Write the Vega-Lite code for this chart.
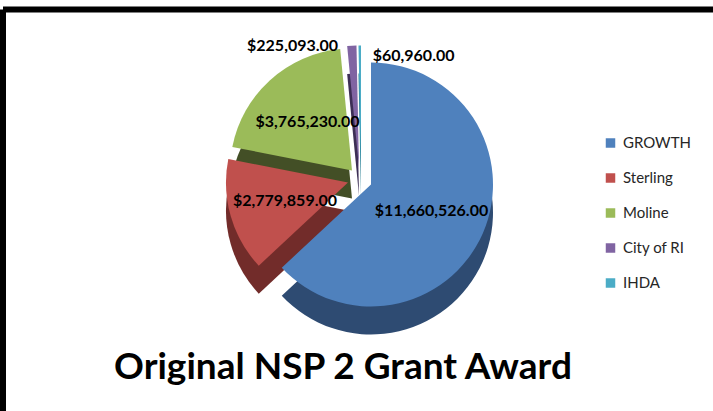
{
  "$schema": "https://vega.github.io/schema/vega-lite/v6.json",
  "width": 714,
  "height": 420,
  "autosize": {"type": "none"},
  "padding": {"left": 3, "top": 9.5, "right": 0, "bottom": 0},
  "background": "white",
  "view": {"stroke": "black", "strokeWidth": 6, "strokeDash": [714, 1134, 420, 0]},
  "config": {
    "font": "Lato",
    "legend": {
      "orient": "none", "legendX": 600, "legendY": 126,
      "symbolType": "square", "symbolSize": 90, "symbolStrokeWidth": 0,
      "labelFontSize": 15, "labelFont": "Lato", "labelColor": "#262626",
      "rowPadding": 19, "labelOffset": 5, "title": null
    }
  },
  "title": {
    "text": "Original NSP 2 Grant Award",
    "orient": "bottom", "anchor": "middle", "frame": "group",
    "font": "Lato", "fontSize": 37, "fontWeight": "bold", "color": "black",
    "baseline": "alphabetic", "offset": -50.5, "dx": -17
  },
  "data": {
    "values": [
      {"Name": "GROWTH", "Amount": 11660526, "order": 1},
      {"Name": "Sterling", "Amount": 2779859, "order": 2},
      {"Name": "Moline", "Amount": 3765230, "order": 3},
      {"Name": "City of RI", "Amount": 225093, "order": 4},
      {"Name": "IHDA", "Amount": 60960, "order": 5}
    ]
  },
  "transform": [
    {"stack": "Amount", "groupby": [], "sort": [{"field": "order", "order": "ascending"}], "as": ["start", "end"]}
  ],
  "encoding": {
    "theta": {"field": "start", "type": "quantitative", "scale": {"domain": [0, 18491668]}},
    "theta2": {"field": "end"}
  },
  "layer": [
    {"transform": [{"filter": "datum.Name === 'GROWTH'"}], "mark": {"type": "arc", "outerRadius": 122, "xOffset": 11, "yOffset": -7},
     "encoding": {"fill": {"field": "order", "type": "ordinal", "legend": null, "scale": {"domain": [1, 2, 3, 4, 5], "range": ["#2e4b72", "#722c2a", "#434f26", "#3d2f55", "#2a7f93"]}}}},
    {"transform": [{"filter": "datum.Name === 'Sterling'"}], "mark": {"type": "arc", "outerRadius": 122, "xOffset": -12, "yOffset": -9},
     "encoding": {"fill": {"field": "order", "type": "ordinal", "legend": null}}},
    {"transform": [{"filter": "datum.Name === 'Moline'"}], "mark": {"type": "arc", "outerRadius": 122, "xOffset": -8, "yOffset": -21},
     "encoding": {"fill": {"field": "order", "type": "ordinal", "legend": null}}},
    {"transform": [{"filter": "datum.Name === 'City of RI'"}], "mark": {"type": "arc", "outerRadius": 122, "xOffset": -1, "yOffset": -24},
     "encoding": {"fill": {"field": "order", "type": "ordinal", "legend": null}}},
    {"transform": [{"filter": "datum.Name === 'IHDA'"}], "mark": {"type": "arc", "outerRadius": 122, "xOffset": 1, "yOffset": -24},
     "encoding": {"fill": {"field": "order", "type": "ordinal", "legend": null}}},

    {"transform": [{"filter": "datum.Name === 'GROWTH'"}], "mark": {"type": "arc", "outerRadius": 122, "xOffset": 11, "yOffset": -35},
     "encoding": {"color": {"field": "Name", "type": "nominal", "scale": {"domain": ["GROWTH", "Sterling", "Moline", "City of RI", "IHDA"], "range": ["#4f81bd", "#c0504d", "#9bbb59", "#8064a2", "#4bacc6"]}}}},
    {"transform": [{"filter": "datum.Name === 'Sterling'"}], "mark": {"type": "arc", "outerRadius": 122, "xOffset": -12, "yOffset": -37},
     "encoding": {"color": {"field": "Name", "type": "nominal"}}},
    {"transform": [{"filter": "datum.Name === 'Moline'"}], "mark": {"type": "arc", "outerRadius": 122, "xOffset": -8, "yOffset": -49},
     "encoding": {"color": {"field": "Name", "type": "nominal"}}},
    {"transform": [{"filter": "datum.Name === 'City of RI'"}], "mark": {"type": "arc", "outerRadius": 122, "xOffset": -1, "yOffset": -52},
     "encoding": {"color": {"field": "Name", "type": "nominal"}}},
    {"transform": [{"filter": "datum.Name === 'IHDA'"}], "mark": {"type": "arc", "outerRadius": 122, "xOffset": 1, "yOffset": -52},
     "encoding": {"color": {"field": "Name", "type": "nominal"}}},

    {"mark": {"type": "text", "radius": 78, "yOffset": -40, "font": "Lato", "fontSize": 16, "fontWeight": "bold", "color": "black"},
     "encoding": {
       "theta": {"field": "Amount", "type": "quantitative", "stack": true},
       "theta2": null,
       "order": {"field": "order", "type": "quantitative"},
       "text": {"condition": {"test": "datum.order <= 3", "field": "Amount", "type": "quantitative", "format": "$,.2f"}, "value": ""}}},
    {"mark": {"type": "text", "radius": 134, "yOffset": -40, "align": "right", "dx": -14, "font": "Lato", "fontSize": 16, "fontWeight": "bold", "color": "black"},
     "encoding": {
       "theta": {"field": "Amount", "type": "quantitative", "stack": true},
       "theta2": null,
       "order": {"field": "order", "type": "quantitative"},
       "text": {"condition": {"test": "datum.Name === 'City of RI'", "field": "Amount", "type": "quantitative", "format": "$,.2f"}, "value": ""}}},
    {"mark": {"type": "text", "radius": 124, "yOffset": -40, "align": "left", "dx": 14, "font": "Lato", "fontSize": 16, "fontWeight": "bold", "color": "black"},
     "encoding": {
       "theta": {"field": "Amount", "type": "quantitative", "stack": true},
       "theta2": null,
       "order": {"field": "order", "type": "quantitative"},
       "text": {"condition": {"test": "datum.Name === 'IHDA'", "field": "Amount", "type": "quantitative", "format": "$,.2f"}, "value": ""}}}
  ]
}
